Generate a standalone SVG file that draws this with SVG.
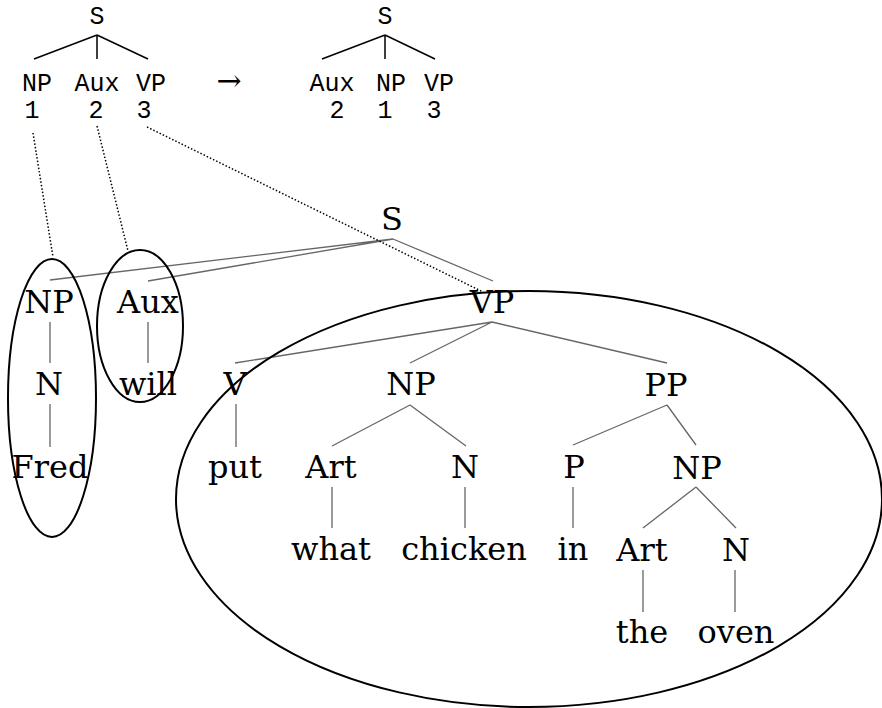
<svg xmlns="http://www.w3.org/2000/svg" width="882" height="708" viewBox="0 0 882 708">
<style>
.m{font-family:"Liberation Mono","DejaVu Sans Mono",monospace;font-size:25px;fill:#000;text-anchor:middle}
.s{font-family:"DejaVu Serif","Liberation Serif",serif;font-size:32px;fill:#000;text-anchor:middle}
.tl{stroke:#000;stroke-width:1.5;fill:none}
.gl{stroke:#666;stroke-width:1.3;fill:none}
.el{stroke:#000;stroke-width:2;fill:none}
.dot{stroke:#000;stroke-width:1.5;stroke-dasharray:1.5 2;fill:none}
</style>
<rect width="882" height="708" fill="#fff"/>
<g id="rule-left">
<text class="m" x="97" y="24">S</text>
<path class="tl" d="M97 35 L34 59 M97 35 L97 59 M97 35 L148 59"/>
<text class="m" x="37" y="91">NP</text>
<text class="m" x="97" y="91">Aux</text>
<text class="m" x="151" y="91">VP</text>
<text class="m" x="32" y="118">1</text>
<text class="m" x="96" y="118">2</text>
<text class="m" x="144" y="118">3</text>
</g>
<g id="arrow">
<text x="229" y="91" style="font-family:'DejaVu Serif',serif;font-size:30px;text-anchor:middle">→</text>
</g>
<g id="rule-right">
<text class="m" x="385" y="24">S</text>
<path class="tl" d="M385 35 L322 59 M385 35 L385 59 M385 35 L435 59"/>
<text class="m" x="332" y="91">Aux</text>
<text class="m" x="391" y="91">NP</text>
<text class="m" x="439" y="91">VP</text>
<text class="m" x="337" y="118">2</text>
<text class="m" x="385" y="118">1</text>
<text class="m" x="434" y="118">3</text>
</g>
<g id="connectors">
<path class="gl" d="M393 239 L50 280 M393 239 L148 281 M393 239 L493 281"/>
<path class="gl" d="M50 322 L50 363 M50 404 L50 447 M148 322 L148 363"/>
<path class="gl" d="M492 322 L235 363 M492 322 L410 363 M492 322 L667 363"/>
<path class="gl" d="M236 404 L236 447"/>
<path class="gl" d="M410 405 L332 446 M410 405 L466 446"/>
<path class="gl" d="M667 405 L573 445 M667 405 L696 445"/>
<path class="gl" d="M332 487 L332 528 M465 487 L465 528 M573 487 L573 528"/>
<path class="gl" d="M696 487 L643 528 M696 487 L736 528"/>
<path class="gl" d="M643 570 L643 612 M735 570 L735 612"/>
</g>
<g id="tree">
<g id="n-S"><text class="s" x="392" y="230">S</text></g>
<g id="n-NP1"><text class="s" x="49" y="313">NP</text></g>
<g id="n-Aux"><text class="s" x="148" y="313">Aux</text></g>
<g id="n-VP"><text class="s" x="492" y="313">VP</text></g>
<g id="n-N1"><text class="s" x="49" y="395">N</text></g>
<g id="n-will"><text class="s" x="148" y="395">will</text></g>
<g id="n-V"><text class="s" x="235" y="395">V</text></g>
<g id="n-NP2"><text class="s" x="411" y="395">NP</text></g>
<g id="n-PP"><text class="s" x="666" y="396">PP</text></g>
<g id="n-Fred"><text class="s" x="50" y="478">Fred</text></g>
<g id="n-put"><text class="s" x="235" y="478">put</text></g>
<g id="n-Art1"><text class="s" x="331" y="478">Art</text></g>
<g id="n-N2"><text class="s" x="465" y="478">N</text></g>
<g id="n-P"><text class="s" x="574" y="478">P</text></g>
<g id="n-NP3"><text class="s" x="697" y="479">NP</text></g>
<g id="n-what"><text class="s" x="331" y="560">what</text></g>
<g id="n-chicken"><text class="s" x="464" y="560">chicken</text></g>
<g id="n-in"><text class="s" x="573" y="560">in</text></g>
<g id="n-Art2"><text class="s" x="642" y="561">Art</text></g>
<g id="n-N3"><text class="s" x="736" y="561">N</text></g>
<g id="n-the"><text class="s" x="642" y="643">the</text></g>
<g id="n-oven"><text class="s" x="736" y="643">oven</text></g>
</g>
<g id="ellipses">
<ellipse class="el" cx="52" cy="398" rx="44" ry="139"/>
<ellipse class="el" cx="140" cy="326" rx="43" ry="76"/>
<ellipse class="el" cx="529" cy="499" rx="353" ry="208"/>
</g>
<g id="mapping">
<path class="dot" d="M33 133 L53 257"/>
<path class="dot" d="M97 126 L128 251"/>
<path class="dot" d="M147 127 L483 292"/>
</g>
</svg>
